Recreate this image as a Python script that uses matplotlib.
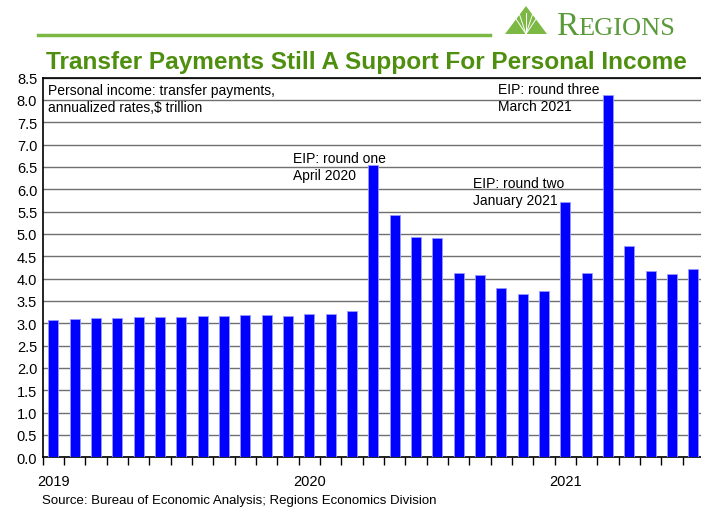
import matplotlib.pyplot as plt
import numpy as np
from matplotlib.patches import Polygon

plt.rcParams["font.family"] = ["Liberation Sans", "DejaVu Sans"]

# Monthly transfer payments, annualized, $ trillion (Jan 2019 - Jul 2021)
months = [f"{y}-{m:02d}" for y in (2019, 2020, 2021) for m in range(1, 13)][:31]
values = [
    3.08, 3.10, 3.12, 3.12, 3.13, 3.15, 3.15, 3.17, 3.17, 3.19, 3.19, 3.17,
    3.21, 3.21, 3.27, 6.54, 5.42, 4.93, 4.91, 4.12, 4.07, 3.80, 3.66, 3.72,
    5.72, 4.13, 8.11, 4.72, 4.17, 4.10, 4.22,
]
year_labels = ["2019", "2020", "2021"]
year_pos = [0, 12, 24]

# label text, (x, y) in data units of the upper-left corner
annotations = [
    ("EIP: round one\nApril 2020", (11.25, 6.86)),
    ("EIP: round two\nJanuary 2021", (19.65, 6.30)),
    ("EIP: round three\nMarch 2021", (20.86, 8.40)),
]

title_green = "#4f8f0f"
logo_green = "#7cb844"

fig = plt.figure(figsize=(7.01, 5.10), dpi=100)
ax = fig.add_axes([0.061, 0.1014, 0.945, 0.7446])

x = np.arange(len(values))
ax.bar(x, values, width=0.47, color="#0000ff", edgecolor="#9999ff", linewidth=0.6, zorder=3)

ax.set_xlim(-0.5, len(values) - 0.5 + 0.05)
ax.set_ylim(0, 8.5)
ax.set_yticks(np.arange(0, 8.51, 0.5))
ax.set_yticklabels([f"{v:.1f}" for v in np.arange(0, 8.51, 0.5)], fontsize=10.5)
ax.yaxis.grid(True, color="#707070", linewidth=1.0, zorder=0)
ax.tick_params(axis="y", length=0, pad=4)

# month boundary ticks, year labels under first bar of each year
ax.set_xticks(np.arange(-0.5, len(values), 1.0), minor=True)
ax.tick_params(axis="x", which="minor", length=6, width=1, color="black", direction="out")
ax.set_xticks(year_pos)
ax.set_xticklabels(year_labels, fontsize=10.5)
ax.tick_params(axis="x", which="major", length=0, pad=12)

ax.spines["right"].set_visible(False)
for side in ["left", "top", "bottom"]:
    ax.spines[side].set_linewidth(1.2)
    ax.spines[side].set_color("black")

ax.text(0.008, 0.985, "Personal income: transfer payments,\nannualized rates,$ trillion",
        transform=ax.transAxes, fontsize=10, va="top", ha="left", linespacing=1.25)

for text, (tx, ty) in annotations:
    ax.text(tx, ty, text, fontsize=10, va="top", ha="left", linespacing=1.25, zorder=4)

# title
fig.text(0.523, 0.878, "Transfer Payments Still A Support For Personal Income",
         fontsize=17.6, fontweight="bold", color=title_green, ha="center", va="center")

# green rule and logo
fig.add_artist(plt.Line2D([38 / 701, 490 / 701], [1 - 36 / 510, 1 - 36 / 510],
                          color=logo_green, linewidth=2.5))
tri = [(505 / 701, 1 - 35 / 510), (547 / 701, 1 - 35 / 510), (526 / 701, 1 - 7 / 510)]
fig.add_artist(Polygon(tri, closed=True, facecolor=logo_green, edgecolor="none"))
for fx in [512, 519, 526, 533, 540]:
    fig.add_artist(plt.Line2D([526 / 701, fx / 701], [1 - 35 / 510, 1 - 14 / 510],
                              color="white", linewidth=0.7))
fig.text(556 / 701, 1 - 35 / 510, "R", fontsize=24, color="#5a9a3a",
         family="Liberation Serif", ha="left", va="baseline")
fig.text(578 / 701, 1 - 35 / 510, "EGIONS", fontsize=19, color="#5a9a3a",
         family="Liberation Serif", ha="left", va="baseline")

fig.text(42 / 701, 1 - 501 / 510, "Source: Bureau of Economic Analysis; Regions Economics Division",
         fontsize=9.5, ha="left", va="center")

fig.savefig("out.png", dpi=100)
